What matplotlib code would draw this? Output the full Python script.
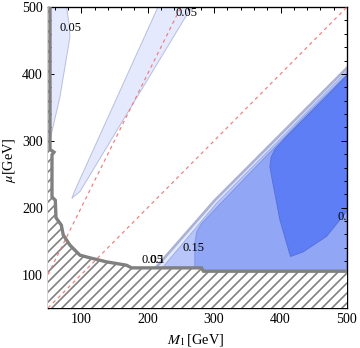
import matplotlib
import numpy as np

matplotlib.use("Agg")
import matplotlib.pyplot as plt  # noqa: E402
from matplotlib.ticker import MultipleLocator  # noqa: E402

# axis ranges (GeV)
M_RANGE = (50, 500)
MU_RANGE = (50, 500)

# excluded region boundary (thick grey line), M1 and mu in GeV
excl_M = [53, 53, 59, 56, 56, 61, 62, 70, 73, 83, 98, 113, 138, 168, 176, 281, 284, 500]
excl_mu = [500, 287, 283, 279, 216, 211, 185, 174, 159, 144, 129, 125, 119, 114, 110, 110, 105, 105]

# 0.05 contour, thin sliver at top left
sliver_M = [53, 68, 83, 82, 78, 53]
sliver_mu = [301, 366, 455, 472, 500, 500]

# 0.05 contour, diagonal wedge
wedge_M = [86, 90.6, 215.5, 266, 98, 88]
wedge_mu = [214, 226, 500, 500, 224, 216]

# lower-right contours: upper-left edges
c005_M = [212, 301, 500]
c005_mu = [110, 211, 409]
c010_M = [222, 304, 500]
c010_mu = [110, 207, 404]
c015_M = [271, 271, 274, 281, 301, 360, 440, 500]
c015_mu = [110, 147, 164, 176, 197, 258, 340, 399]
c020_M = [415, 399, 386.7, 384, 386, 391.6, 409, 474, 500, 500, 469, 434]
c020_mu = [127, 182, 246, 262, 276, 287, 306, 371, 398, 195, 157, 134]

# contour labels: text, M1, mu
labels = [
    ("0.05", 84.6, 468.6),
    ("0.05", 259, 491),
    ("0.05", 207.6, 121.8),
    ("0.1", 214, 121.8),
    ("0.15", 269.7, 139.7),
    ("0.2", 497.7, 186),
]

COLORS = {
    "c005": "#e4e9fd",
    "c010": "#b7c5f8",
    "c015": "#91a7f6",
    "c020": "#5e7ef5",
}

plt.rcParams["font.family"] = ["Liberation Serif", "DejaVu Serif"]
plt.rcParams["mathtext.fontset"] = "stix"
plt.rcParams["hatch.linewidth"] = 1.0
plt.rcParams["hatch.color"] = "#808080"

fig = plt.figure(figsize=(3.0, 2.9), dpi=120)
ax = fig.add_axes([48 / 360, 40 / 348, 299 / 360, 301 / 348])


def lower_region(edge_M, edge_mu):
    # close an upper-left edge against the right and bottom of the plot
    xs = list(edge_M) + [M_RANGE[1], edge_M[0]]
    ys = list(edge_mu) + [MU_RANGE[0], MU_RANGE[0]]
    return xs, ys


edge_kw = dict(linewidth=0.6)
ax.fill(sliver_M, sliver_mu, facecolor=COLORS["c005"], edgecolor="#b9c0dd", **edge_kw, zorder=1)
ax.fill(wedge_M, wedge_mu, facecolor=COLORS["c005"], edgecolor="#b9c0dd", **edge_kw, zorder=1)

xs, ys = lower_region(c005_M, c005_mu)
ax.fill(xs, ys, facecolor=COLORS["c005"], edgecolor="#aab3d6", linewidth=1.6, zorder=1)
xs, ys = lower_region(c010_M, c010_mu)
ax.fill(xs, ys, facecolor=COLORS["c010"], edgecolor="#9fb0ea", linewidth=0.6, zorder=1.1)
xs, ys = lower_region(c015_M, c015_mu)
ax.fill(xs, ys, facecolor=COLORS["c015"], edgecolor="#7f95e6", linewidth=0.6, zorder=1.2)
ax.fill(c020_M, c020_mu, facecolor=COLORS["c020"], edgecolor="#5672dc", linewidth=0.6, zorder=1.3)

# hatched excluded area below/left of the boundary
hx = excl_M + [M_RANGE[1] + 10, M_RANGE[1] + 10, M_RANGE[0] - 10, M_RANGE[0] - 10, excl_M[0]]
hy = excl_mu + [excl_mu[-1], MU_RANGE[0] - 10, MU_RANGE[0] - 10, MU_RANGE[1] + 10, MU_RANGE[1] + 10]
ax.fill(hx, hy, facecolor="white", edgecolor="#808080", linewidth=0, hatch="////", zorder=3)

# reference lines mu = M1 and mu = 2 M1
m_line = np.array(M_RANGE, dtype=float)
ax.plot(m_line, m_line, color="#f27a7a", linewidth=0.7, linestyle=(0, (3, 3)), zorder=4)
ax.plot(m_line, 2 * m_line, color="#f27a7a", linewidth=0.7, linestyle=(0, (3, 3)), zorder=4)

ax.plot(excl_M, excl_mu, color="#808080", linewidth=2.0, solid_joinstyle="miter", zorder=5)

for text, m, mu in labels:
    ax.text(m, mu, text, fontsize=7.5, ha="center", va="center", zorder=6, clip_on=True)

ax.set_xlim(*M_RANGE)
ax.set_ylim(*MU_RANGE)
ax.xaxis.set_major_locator(MultipleLocator(100))
ax.yaxis.set_major_locator(MultipleLocator(100))
ax.xaxis.set_minor_locator(MultipleLocator(20))
ax.yaxis.set_minor_locator(MultipleLocator(20))
ax.tick_params(which="both", direction="in", top=True, right=True, width=0.6, labelsize=8.4, pad=3)
ax.tick_params(which="major", length=3.6)
ax.tick_params(which="minor", length=1.8)
for spine in ax.spines.values():
    spine.set_linewidth(0.8)

ax.set_xlabel(r"$M_1\,$[GeV]", fontsize=8.6)
ax.set_ylabel(r"$\mu$[GeV]", fontsize=8.6)
ax.xaxis.set_label_coords(0.495, -0.08)
ax.yaxis.set_label_coords(-0.1, 0.492)

fig.savefig("out.png", dpi=120)
